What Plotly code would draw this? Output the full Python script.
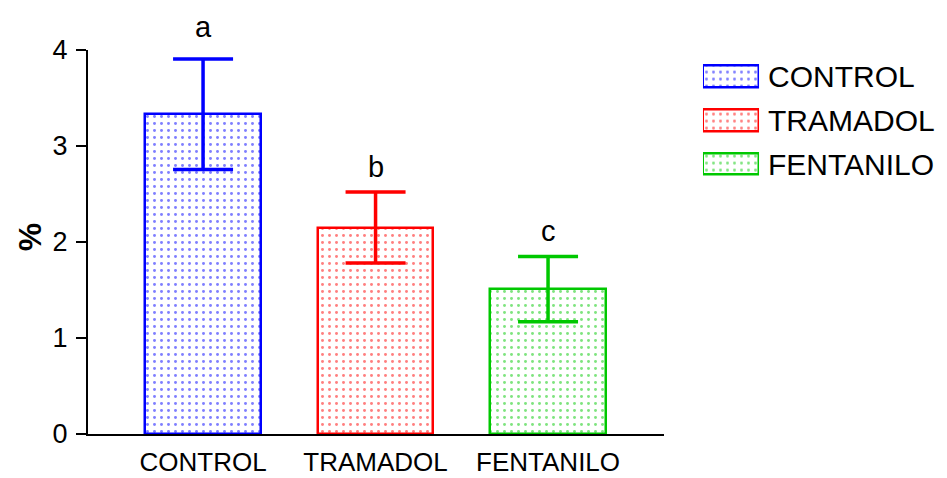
import plotly.graph_objects as go

# Group means, standard errors and significance letters
groups = ["CONTROL", "TRAMADOL", "FENTANILO"]
means = [3.33, 2.15, 1.51]
errors = [0.575, 0.37, 0.34]
letters = ["a", "b", "c"]
colors = ["#0000ff", "#ff0000", "#00c800"]
y_ticks = [0, 1, 2, 3, 4]

FONT = "Liberation Sans, Arial, Helvetica, sans-serif"


def dotted(color):
    return dict(
        color="white",
        line=dict(color=color, width=2.5),
        pattern=dict(shape=".", size=7, solidity=0.14,
                     fgcolor=color, bgcolor="white", fillmode="overlay"),
    )


fig = go.Figure()

# Main dotted bars with error bars
for i, g in enumerate(groups):
    fig.add_trace(go.Bar(
        x=[i], y=[means[i]], width=0.67,
        marker=dotted(colors[i]),
        error_y=dict(type="data", array=[errors[i]], visible=True,
                     color=colors[i], thickness=3.5, width=30),
        showlegend=False, xaxis="x", yaxis="y",
    ))

# Legend swatches drawn as horizontal bars in a small side panel
for i, g in enumerate(groups):
    fig.add_trace(go.Bar(
        y=[i], x=[1], orientation="h", width=0.48,
        marker=dotted(colors[i]),
        showlegend=False, hoverinfo="skip", xaxis="x2", yaxis="y2",
    ))

annotations = []
# Significance letters above each error bar
for i in range(len(groups)):
    annotations.append(dict(
        x=i, y=means[i] + errors[i], xref="x", yref="y",
        text=letters[i], showarrow=False, yanchor="bottom",
        yshift=14 if i == 0 else 7,
        font=dict(family=FONT, size=29, color="black"),
    ))
# Legend labels
for i, g in enumerate(groups):
    annotations.append(dict(
        x=0.808, y=i, xref="paper", yref="y2",
        text=g, showarrow=False, xanchor="left", yanchor="middle",
        font=dict(family=FONT, size=30, color="black"),
    ))
# Y axis title
annotations.append(dict(
    x=-0.069, y=2.05, xref="paper", yref="y",
    text="<b>%</b>", textangle=-90, showarrow=False,
    xanchor="center", yanchor="middle",
    font=dict(family=FONT, size=32, color="black"),
))

fig.update_layout(
    width=947, height=478,
    margin=dict(l=88, r=20, t=50, b=44),
    paper_bgcolor="white", plot_bgcolor="white",
    bargap=0, barmode="overlay",
    font=dict(family=FONT, color="black"),
    xaxis=dict(
        domain=[0, 0.6865], range=[-0.667, 2.672],
        tickmode="array", tickvals=[0, 1, 2], ticktext=groups,
        ticks="", showgrid=False, zeroline=False,
        showline=True, linecolor="black", linewidth=2,
        tickfont=dict(family=FONT, size=26, color="black"),
        ticklabelstandoff=4, automargin=False,
    ),
    yaxis=dict(
        range=[0, 4], tickmode="array", tickvals=y_ticks,
        ticks="outside", ticklen=10, tickwidth=2, tickcolor="black",
        showgrid=False, zeroline=False,
        showline=True, linecolor="black", linewidth=2,
        tickfont=dict(family=FONT, size=27, color="black"),
        ticklabelstandoff=3, automargin=False,
    ),
    xaxis2=dict(domain=[0.733, 0.7998], range=[0, 1], visible=False,
                fixedrange=True, anchor="y2"),
    yaxis2=dict(domain=[0.6445, 0.988], range=[2.5, -0.5], visible=False,
                fixedrange=True, anchor="x2"),
    annotations=annotations,
)

fig.write_html("out.html")
